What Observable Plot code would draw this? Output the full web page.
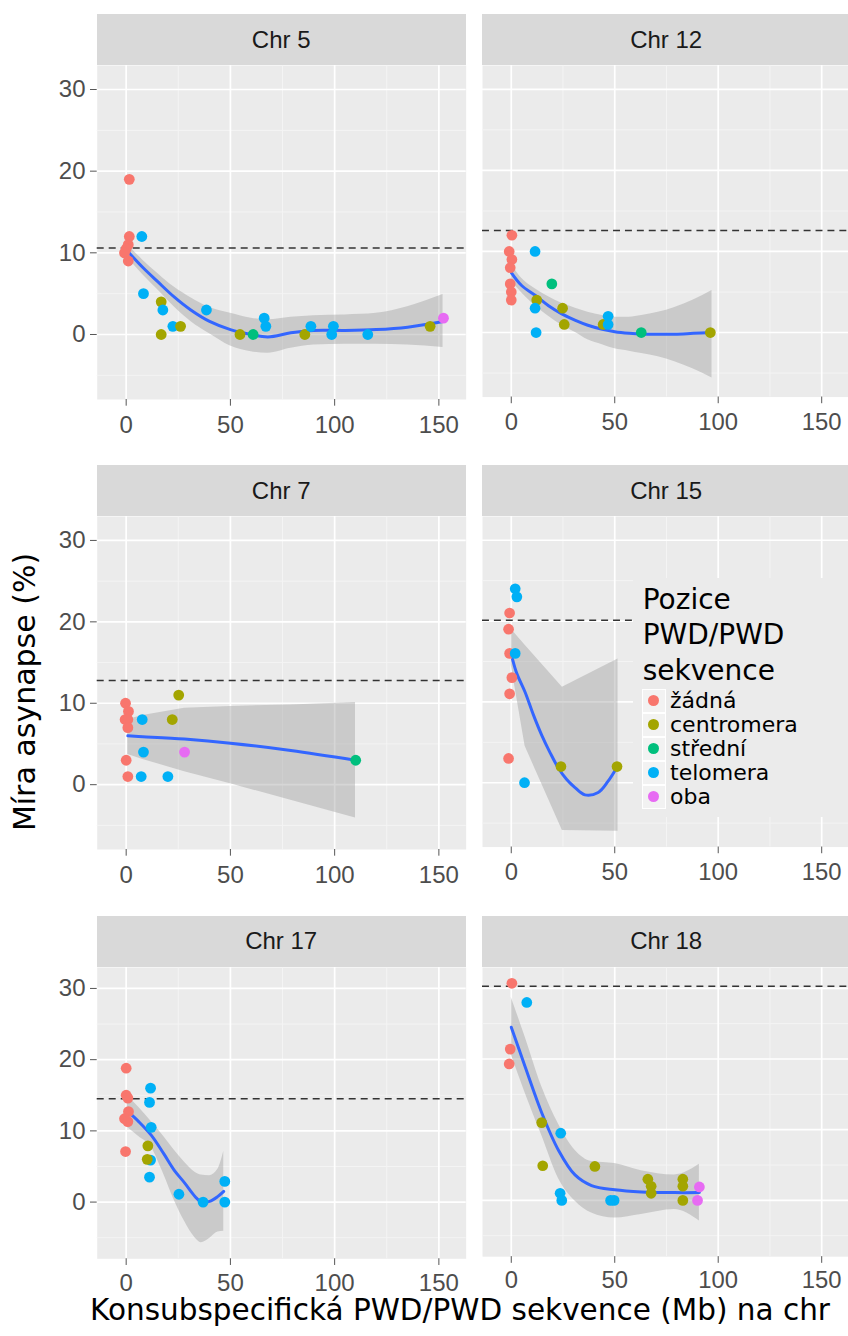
<!DOCTYPE html>
<html>
<head>
<meta charset="utf-8">
<script src="https://cdn.jsdelivr.net/npm/d3@7"></script>
<script src="https://cdn.jsdelivr.net/npm/@observablehq/plot@0.6"></script>
<style>
  html, body { margin: 0; padding: 0; background: #fff; }
  #chart { position: relative; width: 848px; height: 1336px; overflow: hidden; background: #fff;
           font-family: "Liberation Sans", Arial, sans-serif; }
  .strip { position: absolute; background: #D9D9D9; color: #1A1A1A; font-size: 24px;
           display: flex; align-items: center; justify-content: center; }
  .panel { position: absolute; }
  .axis-title { position: absolute; font-family: "DejaVu Sans", sans-serif; color: #000; white-space: nowrap;
                line-height: 1; }
  #legend { position: absolute; left: 633px; top: 578px; width: 215px; height: 239px; background: #EBEBEB;
            font-family: "DejaVu Sans", sans-serif; color: #000; }
  #legend .title { position: absolute; left: 9.7px; top: 3.5px; font-size: 28px; line-height: 35.7px; }
  #legend .key { position: absolute; left: 8.7px; width: 22px; height: 22px; background: #F2F2F2;
                 border: 1px solid #fff; }
  #legend .key span { position: absolute; left: 5.5px; top: 5.5px; width: 11px; height: 11px; border-radius: 50%; }
  #legend .lab { position: absolute; left: 37px; font-size: 22px; line-height: 24px; white-space: nowrap; }
</style>
</head>
<body>
<div id="chart"></div>
<script>
// Position of the PWD/PWD sequence on the chromosome
const positionLevels = ["žádná", "centromera", "střední", "telomera", "oba"];
const positionColors = ["#F8766D", "#A3A500", "#00BF7D", "#00B0F6", "#E76BF3"];

const chromosomes = ["Chr 5", "Chr 12", "Chr 7", "Chr 15", "Chr 17", "Chr 18"];
// asynapse rate of the reference (dashed line) per chromosome
const thresholds = [10.6, 12.6, 12.8, 20.1, 14.5, 30.3];

const xTicks = [0, 50, 100, 150];
const xMinorTicks = [25, 75, 125];
const yTicks = [0, 10, 20, 30];
const yMinorTicks = [-5, 5, 15, 25];

const xTitle = "Konsubspecifická PWD/PWD sekvence (Mb) na chr";
const yTitle = "Míra asynapse (%)";
const legendTitle = ["Pozice", "PWD/PWD", "sekvence"];

// [Mb of consubspecific sequence, asynapse %, position]
const chr5Points = [
  [1.5, 19, "žádná"], [1.5, 12, "žádná"], [1, 11, "žádná"], [0, 10.5, "žádná"], [-0.8, 10, "žádná"], [1, 9, "žádná"],
  [7.5, 12, "telomera"], [8.3, 5, "telomera"], [16.8, 4, "centromera"], [17.6, 3, "telomera"],
  [16.8, 0, "centromera"], [22.4, 1, "telomera"], [26.1, 1, "centromera"], [38.5, 3, "telomera"],
  [54.6, 0, "centromera"], [60.9, 0, "střední"], [66.2, 2, "telomera"], [67, 1, "telomera"],
  [85.7, 0, "centromera"], [88.6, 1, "telomera"], [99.4, 1, "telomera"], [98.6, 0, "telomera"],
  [115.9, 0, "telomera"], [145.8, 1, "centromera"], [152.2, 2, "oba"]
];
const chr12Points = [
  [0.3, 12, "žádná"], [-1, 10, "žádná"], [0.3, 9, "žádná"], [-0.5, 8, "žádná"], [-0.5, 6, "žádná"],
  [0, 5, "žádná"], [0, 4, "žádná"],
  [11.5, 10, "telomera"], [19.6, 6, "střední"], [12.3, 4, "centromera"], [11.5, 3, "telomera"],
  [24.8, 3, "centromera"], [25.6, 1, "centromera"], [12, 0, "telomera"], [44.4, 1, "centromera"],
  [46.8, 2, "telomera"], [46.8, 1, "telomera"], [62.8, 0, "střední"], [96.2, 0, "centromera"]
];
const chr7Points = [
  [-0.3, 10, "žádná"], [1.1, 9, "žádná"], [-0.5, 8, "žádná"], [0.8, 8, "žádná"], [0.8, 7, "žádná"],
  [7.7, 8, "telomera"], [25.2, 11, "centromera"], [22.1, 8, "centromera"], [8.3, 4, "telomera"],
  [28, 4, "oba"], [0, 3, "žádná"], [0.8, 1, "žádná"], [7.2, 1, "telomera"], [20, 1, "telomera"],
  [110.1, 3, "střední"]
];
const chr15Points = [
  [1.9, 24, "telomera"], [2.7, 23, "telomera"], [-0.8, 21, "žádná"], [-1.3, 19, "žádná"],
  [-0.8, 16, "žádná"], [1.9, 16, "telomera"], [0.3, 13, "žádná"], [-0.8, 11, "žádná"],
  [-1.3, 3, "žádná"], [24, 2, "centromera"], [51.1, 2, "centromera"], [6.4, 0, "telomera"]
];
const chr17Points = [
  [0, 18.8, "žádná"], [0, 15, "žádná"], [0.8, 14.6, "žádná"], [1.1, 12.7, "žádná"], [-0.8, 11.7, "žádná"],
  [0.8, 11.3, "žádná"], [-0.3, 7.1, "žádná"],
  [11.7, 16, "telomera"], [11.2, 14, "telomera"], [12, 10.5, "telomera"], [11.7, 5.9, "telomera"],
  [10.4, 7.9, "centromera"], [10.1, 6, "centromera"], [11.2, 3.5, "telomera"], [25.3, 1.1, "telomera"],
  [36.9, 0, "telomera"], [47.3, 2.9, "telomera"], [47.3, 0, "telomera"]
];
const chr18Points = [
  [0.3, 30.7, "žádná"], [7.5, 28, "telomera"], [-0.5, 21.4, "žádná"], [-1, 19.3, "žádná"],
  [14.7, 11, "centromera"], [23.9, 9.5, "telomera"], [15.2, 4.9, "centromera"], [23.6, 1, "telomera"],
  [24.4, 0, "telomera"], [40.4, 4.8, "centromera"], [48, 0, "telomera"], [49.7, 0, "telomera"],
  [66, 3, "centromera"], [67.6, 2, "centromera"], [67.6, 1, "centromera"], [82.9, 3, "centromera"],
  [82.9, 2, "centromera"], [82.9, 0, "centromera"], [90.9, 1.9, "oba"], [90, 0, "oba"]
];

// loess fit: [x, fit, lower, upper]
const chr5Smooth = [
  [1, 10.1, 9.3, 10.9], [8, 8.2, 7.3, 9.1], [15, 6.5, 5.5, 7.5], [23, 4.6, 3.4, 5.8], [31, 3.0, 1.6, 4.5],
  [40, 1.6, 0.1, 3.3], [50, 0.6, -1.4, 2.6], [60, 0.0, -2.1, 2.0], [68, -0.3, -2.3, 1.8], [79, 0.2, -1.7, 2.1],
  [90, 0.5, -1.3, 2.3], [105, 0.5, -1.2, 2.4], [120, 0.6, -1.2, 2.6], [135, 0.9, -1.3, 3.4], [152, 1.6, -1.6, 4.9]
];
const chr12Smooth = [
  [0, 7.4, 6.4, 8.4], [5, 5.8, 4.9, 6.7], [11.5, 4.6, 3.3, 5.4], [18, 3.3, 2.0, 4.4], [24.4, 2.3, 0.9, 3.6],
  [31, 1.5, 0.0, 3.0], [37, 0.9, -0.9, 2.5], [44, 0.4, -1.5, 2.1], [50, 0.1, -2.0, 1.9], [57, -0.1, -2.3, 1.9],
  [63, -0.2, -2.6, 2.1], [71, -0.2, -3.0, 2.5], [79, -0.2, -3.6, 3.1], [88, -0.1, -4.5, 4.0], [97, 0, -5.6, 5.2]
];
const chr7Smooth = [
  [0.8, 6.0, 3.7, 8.0], [8, 5.9, 3.1, 8.5], [28, 5.6, 1.6, 9.4], [50, 5.1, 0.1, 9.6], [79, 4.2, -1.9, 9.8],
  [110, 3.0, -4.1, 10.1]
];
const chr15Fit = [
  [0.6, 15.3], [2.7, 13.5], [6.7, 11.2], [10.7, 8.4], [14.7, 5.9], [18.8, 3.7], [22.8, 1.8], [26.8, 0.4],
  [30.8, -0.6], [35.6, -1.5], [42, -1.2], [46.8, 0.2], [50.8, 1.8]
];
const chr15Band = [
  [0, 14.5, 19.0], [6.7, 4.5, 17.0], [24.7, -5.9, 11.8], [51.6, -6.0, 15.3]
];
const chr17Smooth = [
  [0.5, 12.8, 10.5, 15.0], [6, 11.3, 9.2, 13.3], [12, 9.4, 7.7, 11.3], [18, 6.8, 3.9, 9.2], [23, 4.5, 0.3, 7.3],
  [28, 2.7, -2.7, 5.6], [33, 0.8, -5.0, 4.2], [36, 0.0, -5.7, 3.8], [40, 0.1, -5.1, 3.7], [44, 0.8, -4.2, 4.6],
  [46.8, 1.5, -4.1, 7.1]
];
const chr18Smooth = [
  [0, 24.5, 20.6, 28.7], [6.7, 18.9, 15.2, 23.1], [14.7, 12.4, 9.2, 16.1], [22.8, 7.1, 3.1, 10.8],
  [30.8, 3.6, -0.1, 7.1], [38.8, 2.1, -1.8, 5.5], [50, 1.5, -2.5, 5.2], [62.8, 1.2, -2.0, 4.2],
  [78.8, 1.1, -1.3, 3.6], [90.9, 1.1, -2.9, 5.1]
];

const pointSets = [chr5Points, chr12Points, chr7Points, chr15Points, chr17Points, chr18Points];
const fitSets = [
  chr5Smooth.map(d => [d[0], d[1]]), chr12Smooth.map(d => [d[0], d[1]]), chr7Smooth.map(d => [d[0], d[1]]),
  chr15Fit, chr17Smooth.map(d => [d[0], d[1]]), chr18Smooth.map(d => [d[0], d[1]])
];
const bandSets = [
  chr5Smooth.map(d => [d[0], d[2], d[3]]), chr12Smooth.map(d => [d[0], d[2], d[3]]),
  chr7Smooth.map(d => [d[0], d[2], d[3]]), chr15Band,
  chr17Smooth.map(d => [d[0], d[2], d[3]]), chr18Smooth.map(d => [d[0], d[2], d[3]])
];

// ---- layout ----
const xDomain = [-13.9, 163.1];
const yDomain = [-7.96, 32.94];
const colLeft = [0, 481.7];
const colMarginLeft = [96.7, 0];
const panelWidth = 369;
const stripTop = [14, 465, 916];
const panelTop = [65, 516, 966.7];
const panelHeight = [334, 333, 291.3];
const xTickPadding = [9.5, 9.5, 8];
const bandCurve = ["monotone-x", "monotone-x", "linear", "linear", "monotone-x", "monotone-x"];

const chart = document.getElementById("chart");

chromosomes.forEach((name, i) => {
  const col = i % 2, row = Math.floor(i / 2);

  const strip = document.createElement("div");
  strip.className = "strip";
  strip.style.left = (colLeft[col] + colMarginLeft[col]) + "px";
  strip.style.top = stripTop[row] + "px";
  strip.style.width = panelWidth + "px";
  strip.style.height = (panelTop[row] - stripTop[row]) + "px";
  strip.textContent = name;
  chart.appendChild(strip);

  const points = pointSets[i].map(([x, y, pos]) => ({x, y, pos}));
  const fit = fitSets[i].map(([x, y]) => ({x, y}));
  const band = bandSets[i].map(([x, lo, hi]) => ({x, lo, hi}));

  const marks = [
    Plot.frame({fill: "#EBEBEB", stroke: "none"}),
    Plot.ruleX(xMinorTicks, {stroke: "#F4F4F4", strokeWidth: 1}),
    Plot.ruleY(yMinorTicks, {stroke: "#F4F4F4", strokeWidth: 1}),
    Plot.ruleX(xTicks, {stroke: "#FFFFFF", strokeWidth: 1.7}),
    Plot.ruleY(yTicks, {stroke: "#FFFFFF", strokeWidth: 1.7}),
    Plot.areaY(band, {x: "x", y1: "lo", y2: "hi", fill: "#999999", fillOpacity: 0.4, curve: bandCurve[i]}),
    Plot.line(fit, {x: "x", y: "y", stroke: "#3366FF", strokeWidth: 3, curve: "catmull-rom"}),
    Plot.ruleY([thresholds[i]], {stroke: "#333333", strokeWidth: 1.5, strokeDasharray: "7,5"}),
    Plot.dot(points, {x: "x", y: "y", fill: "pos", r: 5.4}),
    Plot.axisX(xTicks, {tickSize: 6.7, tickPadding: xTickPadding[row], fontSize: 24, stroke: "#555555", fill: "#4D4D4D"})
  ];
  if (col === 0) {
    marks.push(Plot.axisY(yTicks, {tickSize: 6.7, tickPadding: 5, fontSize: 24, stroke: "#555555", fill: "#4D4D4D"}));
  }

  const svg = Plot.plot({
    width: colMarginLeft[col] + panelWidth,
    height: panelHeight[row] + 40,
    marginTop: 0, marginRight: 0, marginBottom: 40, marginLeft: colMarginLeft[col],
    x: {domain: xDomain, label: null},
    y: {domain: yDomain, label: null, axis: col === 0 ? undefined : null},
    color: {domain: positionLevels, range: positionColors},
    style: {fontFamily: "Liberation Sans, Arial, sans-serif", fontSize: "24px", color: "#4D4D4D",
            background: "transparent", overflow: "visible"},
    marks
  });
  const holder = document.createElement("div");
  holder.className = "panel";
  holder.style.left = colLeft[col] + "px";
  holder.style.top = panelTop[row] + "px";
  holder.appendChild(svg);
  chart.appendChild(holder);
});

// axis titles
const xt = document.createElement("div");
xt.className = "axis-title";
xt.style.fontSize = "29.5px";
xt.style.left = "460px";
xt.style.top = "1296px";
xt.style.transform = "translateX(-50%)";
xt.textContent = xTitle;
chart.appendChild(xt);

const yt = document.createElement("div");
yt.className = "axis-title";
yt.style.fontSize = "30px";
yt.style.left = "25px";
yt.style.top = "692px";
yt.style.transform = "translate(-50%, -50%) rotate(-90deg)";
yt.textContent = yTitle;
chart.appendChild(yt);

// legend, drawn over the Chr 15 panel
const legend = document.createElement("div");
legend.id = "legend";
const title = document.createElement("div");
title.className = "title";
title.innerHTML = legendTitle.join("<br>");
legend.appendChild(title);
positionLevels.forEach((lev, k) => {
  const cy = 122.7 + 24 * k;
  const key = document.createElement("div");
  key.className = "key";
  key.style.top = (cy - 12) + "px";
  const dot = document.createElement("span");
  dot.style.background = positionColors[k];
  key.appendChild(dot);
  legend.appendChild(key);
  const lab = document.createElement("div");
  lab.className = "lab";
  lab.style.top = (cy - 12) + "px";
  lab.textContent = lev;
  legend.appendChild(lab);
});
chart.appendChild(legend);
</script>
</body>
</html>
